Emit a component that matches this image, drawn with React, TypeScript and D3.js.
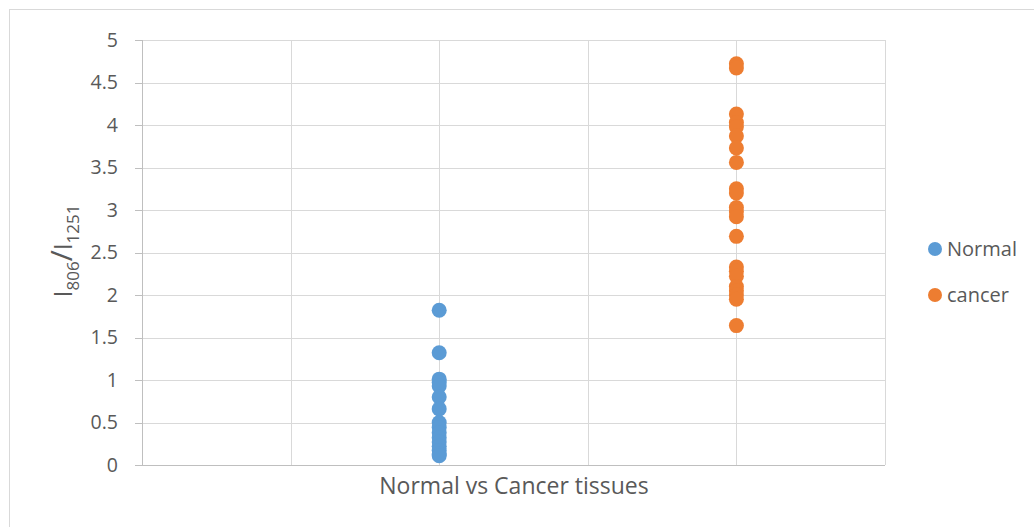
import React from "react";
import * as d3 from "d3";

const normalX = 2;
const cancerX = 4;
const normalValues = [1.82, 1.32, 1.01, 0.97, 0.93, 0.8, 0.66, 0.5, 0.44, 0.38, 0.32, 0.27, 0.22, 0.17, 0.13, 0.11];
const cancerValues = [4.72, 4.67, 4.13, 4.03, 3.98, 3.87, 3.73, 3.56, 3.25, 3.2, 3.03, 2.98, 2.92, 2.69, 2.33, 2.28, 2.22, 2.1, 2.05, 2.0, 1.95, 1.64];
const yTicks = [0, 0.5, 1, 1.5, 2, 2.5, 3, 3.5, 4, 4.5, 5];
const xTicks = [0, 1, 2, 3, 4, 5];
const seriesNames = ["Normal", "cancer"];
const colors = ["#5b9bd5", "#ed7d31"];

export default function App() {
  const left = 142, right = 885, top = 40, bottom = 465;
  const x = d3.scaleLinear().domain([0, 5]).range([left, right]);
  const y = d3.scaleLinear().domain([0, 5]).range([bottom, top]);
  const font = "'Open Sans', sans-serif";
  const txt = "#595959";
  const series = [
    { name: seriesNames[0], xv: normalX, vals: normalValues, color: colors[0] },
    { name: seriesNames[1], xv: cancerX, vals: cancerValues, color: colors[1] },
  ];
  return (
    <svg width={1034} height={527} style={{ position: "absolute", left: 0, top: 0, background: "#fff" }} fontFamily={font}>
      <rect x={9.5} y={9.5} width={1040} height={540} fill="#fff" stroke="#d9d9d9" strokeWidth={1} />
      {yTicks.map((t) => (
        <line key={"gy" + t} x1={left} x2={right} y1={Math.round(y(t)) + 0.5} y2={Math.round(y(t)) + 0.5} stroke="#d9d9d9" />
      ))}
      {xTicks.map((t) => (
        <line key={"gx" + t} x1={Math.round(x(t)) + 0.5} x2={Math.round(x(t)) + 0.5} y1={top} y2={bottom} stroke="#d9d9d9" />
      ))}
      <line x1={left + 0.5} x2={left + 0.5} y1={top} y2={bottom} stroke="#bfbfbf" />
      <line x1={left - 7} x2={right} y1={bottom + 0.5} y2={bottom + 0.5} stroke="#bfbfbf" />
      {yTicks.map((t) => (
        <line key={"ty" + t} x1={left - 7} x2={left} y1={Math.round(y(t)) + 0.5} y2={Math.round(y(t)) + 0.5} stroke="#bfbfbf" />
      ))}
      {yTicks.map((t) => (
        <text key={"ly" + t} x={118} y={y(t)} dy="0.35em" textAnchor="end" fontSize={19.5} fill={txt}>
          {t}
        </text>
      ))}
      {series.map((s) =>
        s.vals.map((v, i) => (
          <circle key={s.name + i} cx={x(s.xv)} cy={y(v)} r={7.5} fill={s.color} />
        ))
      )}
      <text x={514} y={494} textAnchor="middle" fontSize={23} fill={txt}>
        Normal vs Cancer tissues
      </text>
      <text transform="translate(72,251) rotate(-90)" textAnchor="middle" fontSize={25} fill={txt}>
        I<tspan fontSize={17} dy={7}>806</tspan>
        <tspan dy={-7} fontSize={30}>/</tspan>
        <tspan>I</tspan>
        <tspan fontSize={17} dy={7}>1251</tspan>
      </text>
      {series.map((s, i) => (
        <g key={"lg" + s.name} transform={`translate(935,${249 + i * 46})`}>
          <circle r={7} fill={s.color} />
          <text x={12} dy="0.35em" fontSize={20} fill={txt}>
            {s.name}
          </text>
        </g>
      ))}
    </svg>
  );
}
